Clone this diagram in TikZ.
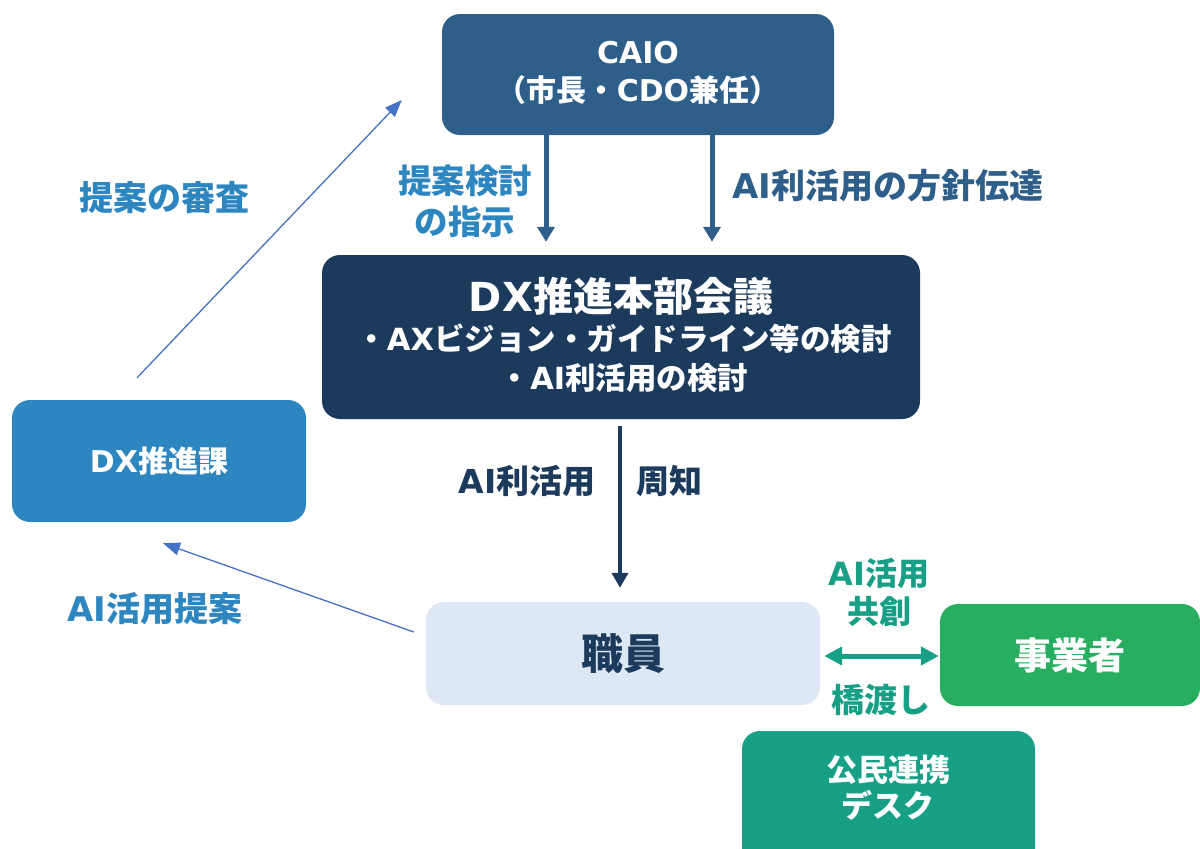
\documentclass[tikz,border=0pt]{standalone}
\usepackage{fontspec}
\setmainfont{Noto Sans CJK JP}
\newfontfamily\latf{DejaVu Sans}
\newcommand{\la}[1]{{\latf #1}}
\usetikzlibrary{arrows.meta}
\definecolor{caioC}{HTML}{2E5F8A}
\definecolor{hqC}{HTML}{1B3A5C}
\definecolor{kaC}{HTML}{2E86C1}
\definecolor{staffC}{HTML}{DEE8F5}
\definecolor{bizC}{HTML}{28AE60}
\definecolor{deskC}{HTML}{17A085}
\definecolor{thinC}{HTML}{4472C4}
\newcommand{\fs}[2]{\fontsize{#1}{#2}\selectfont\bfseries}
\tikzset{
  boxnode/.style={rectangle, rounded corners=18pt, inner sep=0pt, align=center},
  lbl/.style={inner sep=0pt, align=center},
  bigarrow/.style={line width=5pt, -{Triangle[width=17pt,length=15pt]}},
  thinarrow/.style={thinC, line width=1.3pt, -{Triangle[width=13pt,length=17pt]}},
}
\begin{document}
\begin{tikzpicture}[x=1pt,y=-1pt]
\useasboundingbox (0,0) rectangle (1200,849);
% boxes
\node[boxnode, fill=caioC, minimum width=392pt, minimum height=121pt] (caio) at (638,74.5) {};
\node[lbl, text=white, font=\fs{30}{38}] (caiotext) at (638,73) {\la{CAIO}\\（市長・\la{CDO}兼任）};
\node[boxnode, fill=hqC, minimum width=598pt, minimum height=164pt] (hq) at (621,337) {};
\node[lbl, text=white, font=\fs{40}{42}] (hqtitle) at (621,296) {\la{DX}推進本部会議};
\node[lbl, text=white, font=\fs{30.5}{39}] (hqbody) at (624,358) {・\la{AX}ビジョン・ガイドライン等の検討\\・\la{AI}利活用の検討};
\node[boxnode, fill=kaC, text=white, minimum width=294pt, minimum height=122pt, font=\fs{30}{36}] (ka) at (159,461) {\la{DX}推進課};
\node[boxnode, fill=staffC, text=hqC, minimum width=394pt, minimum height=103pt, font=\fs{42}{44}] (staff) at (623,653.5) {職員};
\node[boxnode, fill=bizC, text=white, minimum width=260pt, minimum height=102pt, font=\fs{37}{40}] (biz) at (1070,655) {事業者};
\node[boxnode, fill=deskC, minimum width=293pt, minimum height=150pt] (desk) at (888.5,806) {};
\node[lbl, text=white, font=\fs{31}{36}] (desktext) at (888,788) {公民連携\\デスク};
% arrows
\draw[bigarrow, caioC, shorten >=13pt] ([xshift=-92pt]caio.south) -- ([xshift=-75pt]hq.north);
\draw[bigarrow, caioC, shorten >=13pt] ([xshift=74pt]caio.south) -- ([xshift=91pt]hq.north);
\draw[hqC, line width=4pt, -{Triangle[width=16pt,length=15pt]}, shorten <=7pt, shorten >=14pt] ([xshift=-1pt]hq.south) -- ([xshift=-3pt]staff.north);
\draw[thinarrow] ([xshift=-22pt,yshift=22pt]ka.north) -- ([xshift=-40pt,yshift=-25.5pt]caio.west);
\draw[thinarrow] ([xshift=-12pt,yshift=21.5pt]staff.west) -- ([xshift=4pt,yshift=-21pt]ka.south);
\draw[deskC, line width=5pt, {Triangle[width=18pt,length=18pt]}-{Triangle[width=18pt,length=18pt]}, shorten <=4pt, shorten >=1pt] ([yshift=-2.5pt]staff.east) -- ([yshift=-1pt]biz.west);
% labels
\node[lbl, text=kaC, font=\fs{33.5}{41}] (l1) at (465,201) {提案検討\\の指示};
\node[lbl, text=caioC, font=\fs{34}{38}] (l2) at (888,186) {\la{AI}利活用の方針伝達};
\node[lbl, text=kaC, font=\fs{34}{38}] (l3) at (164,198) {提案の審査};
\node[lbl, text=kaC, font=\fs{34}{38}] (l4) at (155,609) {\la{AI}活用提案};
\node[lbl, text=hqC, font=\fs{33}{38}] (l5) at (527,481) {\la{AI}利活用};
\node[lbl, text=hqC, font=\fs{33}{38}] (l6) at (669,481) {周知};
\node[lbl, text=deskC, font=\fs{32}{38}] (l7) at (879,592) {\la{AI}活用\\共創};
\node[lbl, text=deskC, font=\fs{33}{38}] (l8) at (881,700) {橋渡し};
\end{tikzpicture}
\end{document}
